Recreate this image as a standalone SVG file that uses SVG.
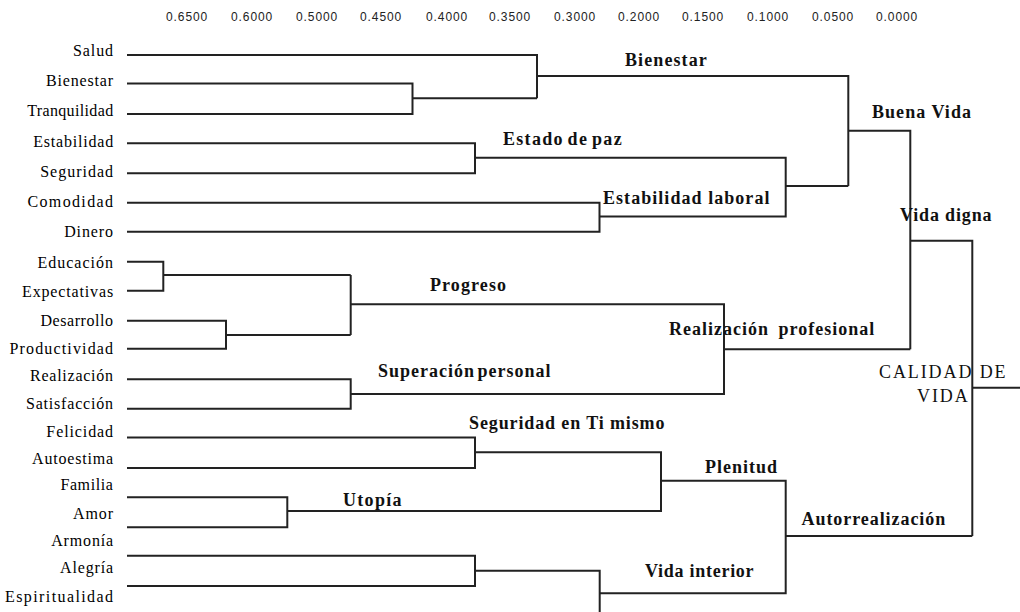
<svg xmlns="http://www.w3.org/2000/svg" width="1020" height="612" viewBox="0 0 1020 612">
<style>
.ax{font-family:"Liberation Sans",Arial,sans-serif;font-size:12px;letter-spacing:0.9px;fill:#222}
.leaf{font-family:"Liberation Serif","Times New Roman",serif;font-size:16px;fill:#000;text-anchor:end}
.cl{font-family:"Liberation Serif","Times New Roman",serif;font-size:18px;font-weight:bold;fill:#111}
.big{font-family:"Liberation Serif","Times New Roman",serif;font-size:18px;fill:#111;letter-spacing:1.9px}
.ln{fill:none;stroke:#222;stroke-width:2}
</style>
<rect width="1020" height="612" fill="#fff"/>
<g id="axis">
<text class="ax" x="166" y="21">0.6500</text>
<text class="ax" x="231" y="21">0.6000</text>
<text class="ax" x="296" y="21">0.5000</text>
<text class="ax" x="360" y="21">0.4500</text>
<text class="ax" x="426" y="21">0.4000</text>
<text class="ax" x="489" y="21">0.3500</text>
<text class="ax" x="554" y="21">0.3000</text>
<text class="ax" x="618" y="21">0.2000</text>
<text class="ax" x="682" y="21">0.1500</text>
<text class="ax" x="747" y="21">0.1000</text>
<text class="ax" x="812" y="21">0.0500</text>
<text class="ax" x="876" y="21">0.0000</text>
</g>
<g id="connectors" class="ln">
<path class="ln" d="M127 55 H537 V98.3"/>
<path class="ln" d="M127 83.5 H412.5 V114 H127"/>
<path class="ln" d="M412.5 98.3 H537"/>
<path class="ln" d="M537 76 H848.3 V186"/>
<path class="ln" d="M127 143.3 H475 V173.3 H127"/>
<path class="ln" d="M475 157.7 H785.7 V216.5 H599.5"/>
<path class="ln" d="M127 202.7 H599.5 V231.7 H127"/>
<path class="ln" d="M785.7 186 H848.3"/>
<path class="ln" d="M848.3 130.7 H910.3 V349.3"/>
<path class="ln" d="M127 261.7 H163.3 V290.7 H127"/>
<path class="ln" d="M163.3 275 H350.7"/>
<path class="ln" d="M127 320.7 H226 V348.7 H127"/>
<path class="ln" d="M226 335 H350.7"/>
<path class="ln" d="M350.7 275 V335"/>
<path class="ln" d="M350.7 304.3 H724 V394 H350.7"/>
<path class="ln" d="M127 379.3 H350.7 V408.7 H127"/>
<path class="ln" d="M724 349.3 H910.3"/>
<path class="ln" d="M910.3 240.7 H972.3 V536"/>
<path class="ln" d="M972.3 387.7 H1020"/>
<path class="ln" d="M127 437.5 H475 V468 H127"/>
<path class="ln" d="M475 452.3 H661 V511 H287.3"/>
<path class="ln" d="M127 497.3 H287.3 V527.3 H127"/>
<path class="ln" d="M661 480.7 H785.7 V593.3 H599.7"/>
<path class="ln" d="M127 555.7 H475 V586 H127"/>
<path class="ln" d="M475 570.7 H599.7 V612"/>
<path class="ln" d="M785.7 536 H972.3"/>
</g>
<g id="leaves">
<g id="n-salud"><text class="leaf" x="114" y="56" letter-spacing="0.9">Salud</text></g>
<g id="n-bienestar"><text class="leaf" x="114" y="86" letter-spacing="0.85">Bienestar</text></g>
<g id="n-tranquilidad"><text class="leaf" x="113.5" y="116" letter-spacing="0.35">Tranquilidad</text></g>
<g id="n-estabilidad"><text class="leaf" x="114" y="146.5" letter-spacing="0.8">Estabilidad</text></g>
<g id="n-seguridad"><text class="leaf" x="114" y="176.5" letter-spacing="1">Seguridad</text></g>
<g id="n-comodidad"><text class="leaf" x="114.3" y="206.5" letter-spacing="1.35">Comodidad</text></g>
<g id="n-dinero"><text class="leaf" x="114" y="236.5" letter-spacing="0.9">Dinero</text></g>
<g id="n-educacion"><text class="leaf" x="114" y="268" letter-spacing="1">Educación</text></g>
<g id="n-expectativas"><text class="leaf" x="114" y="297" letter-spacing="0.85">Expectativas</text></g>
<g id="n-desarrollo"><text class="leaf" x="113.5" y="326" letter-spacing="0.55">Desarrollo</text></g>
<g id="n-productividad"><text class="leaf" x="114.2" y="353.5" letter-spacing="1.15">Productividad</text></g>
<g id="n-realizacion"><text class="leaf" x="113.8" y="381" letter-spacing="0.75">Realización</text></g>
<g id="n-satisfaccion"><text class="leaf" x="113.8" y="409" letter-spacing="0.8">Satisfacción</text></g>
<g id="n-felicidad"><text class="leaf" x="114" y="436.5" letter-spacing="0.9">Felicidad</text></g>
<g id="n-autoestima"><text class="leaf" x="113.8" y="463.5" letter-spacing="0.8">Autoestima</text></g>
<g id="n-familia"><text class="leaf" x="113.5" y="490" letter-spacing="0.6">Familia</text></g>
<g id="n-amor"><text class="leaf" x="114" y="519" letter-spacing="0.9">Amor</text></g>
<g id="n-armonia"><text class="leaf" x="114" y="546" letter-spacing="0.85">Armonía</text></g>
<g id="n-alegria"><text class="leaf" x="114" y="573" letter-spacing="0.85">Alegría</text></g>
<g id="n-espiritualidad"><text class="leaf" x="114.4" y="601.5" letter-spacing="1.4">Espiritualidad</text></g>
</g>
<g id="clusters">
<g id="c-bienestar"><text class="cl" x="625" y="66" letter-spacing="1.1">Bienestar</text></g>
<g id="c-buena-vida"><text class="cl" x="872" y="118" letter-spacing="1.05">Buena Vida</text></g>
<g id="c-estado-paz"><text class="cl" x="503" y="145" letter-spacing="1.3" word-spacing="-2">Estado de paz</text></g>
<g id="c-estabilidad-laboral"><text class="cl" x="603" y="204" letter-spacing="1.05">Estabilidad laboral</text></g>
<g id="c-vida-digna"><text class="cl" x="900" y="221" letter-spacing="0.85">Vida digna</text></g>
<g id="c-progreso"><text class="cl" x="430" y="290.5" letter-spacing="1.1">Progreso</text></g>
<g id="c-realizacion-profesional"><text class="cl" x="669" y="335" letter-spacing="1" word-spacing="4">Realización profesional</text></g>
<g id="c-superacion"><text class="cl" x="378" y="377" letter-spacing="1" word-spacing="-3">Superación personal</text></g>
<g id="c-seguridad-ti"><text class="cl" x="469" y="428.5" letter-spacing="0.88">Seguridad en Ti mismo</text></g>
<g id="c-plenitud"><text class="cl" x="705" y="472.5" letter-spacing="1">Plenitud</text></g>
<g id="c-utopia"><text class="cl" x="343" y="506" letter-spacing="1.3">Utopía</text></g>
<g id="c-autorrealizacion"><text class="cl" x="801.5" y="525" letter-spacing="0.94">Autorrealización</text></g>
<g id="c-vida-interior"><text class="cl" x="645" y="577" letter-spacing="0.73">Vida interior</text></g>
<g id="c-calidad"><text class="big" x="879" y="378">CALIDAD DE</text><text class="big" x="917" y="401.5">VIDA</text></g>
</g>
</svg>
